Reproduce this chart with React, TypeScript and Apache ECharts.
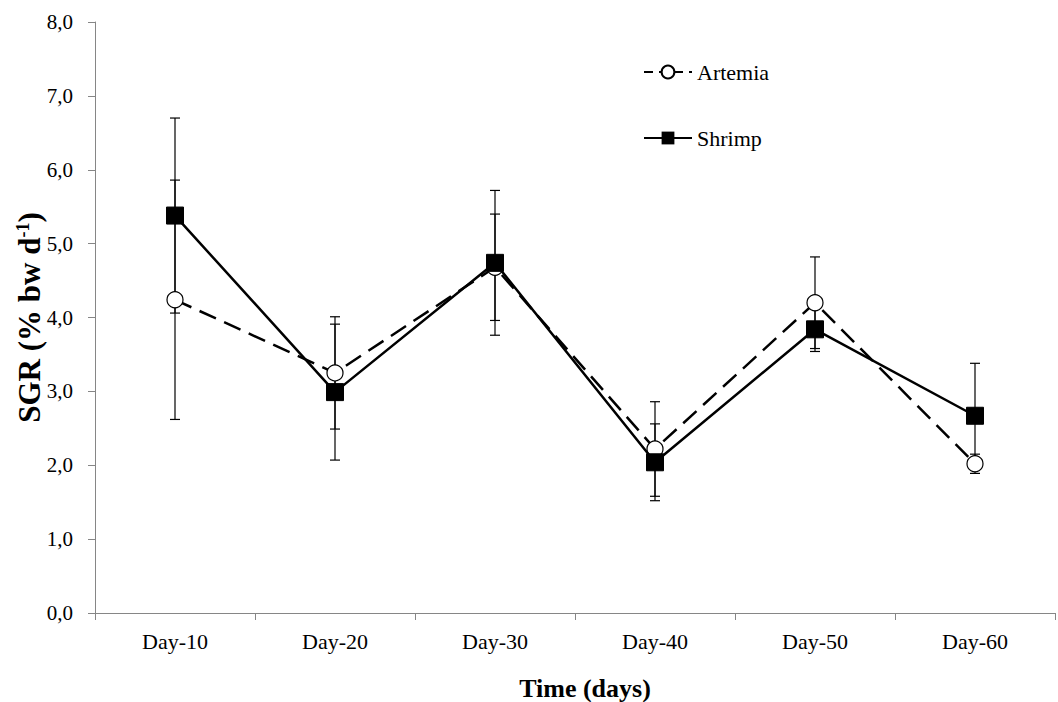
import React, { useEffect, useRef } from "react";
import * as echarts from "echarts";

const categories = ["Day-10", "Day-20", "Day-30", "Day-40", "Day-50", "Day-60"];
const artemia = [4.24, 3.25, 4.68, 2.22, 4.2, 2.02];
const artemiaErr = [1.62, 0.76, 0.72, 0.64, 0.62, 0.13];
const shrimp = [5.38, 2.99, 4.74, 2.04, 3.84, 2.67];
const shrimpErr = [1.32, 0.92, 0.98, 0.52, 0.3, 0.71];
const yTicks = [0, 1, 2, 3, 4, 5, 6, 7, 8];

const FONT = "'Liberation Serif', 'Times New Roman', serif";

function errData(vals: number[], errs: number[]) {
  return vals.map((v, i) => [i, v - errs[i], v + errs[i]]);
}

function errRender(params: any, api: any) {
  const x = api.value(0);
  const lo = api.coord([x, api.value(1)]);
  const hi = api.coord([x, api.value(2)]);
  const w = 5;
  const style = { stroke: "#000", lineWidth: 1.2 };
  return {
    type: "group",
    children: [
      { type: "line", shape: { x1: lo[0], y1: lo[1], x2: hi[0], y2: hi[1] }, style },
      { type: "line", shape: { x1: lo[0] - w, y1: lo[1], x2: lo[0] + w, y2: lo[1] }, style },
      { type: "line", shape: { x1: hi[0] - w, y1: hi[1], x2: hi[0] + w, y2: hi[1] }, style },
    ],
  };
}

export default function App() {
  const ref = useRef<HTMLDivElement>(null);
  useEffect(() => {
    const chart = echarts.init(ref.current!, undefined, { renderer: "svg" });
    chart.setOption({
      animation: false,
      backgroundColor: "#fff",
      textStyle: { fontFamily: FONT },
      grid: { left: 95, right: 3, top: 22, bottom: 89, outerBoundsMode: "none", containLabel: false },
      legend: {
        data: [
          { name: "Artemia", lineStyle: { type: [9, 6] } },
          { name: "Shrimp" },
        ],
        orient: "vertical",
        left: 638,
        top: 56,
        itemGap: 44,
        itemWidth: 48,
        itemHeight: 16,
        textStyle: { fontFamily: FONT, fontSize: 22, color: "#000" },
      },
      xAxis: {
        type: "category",
        data: categories,
        boundaryGap: true,
        name: "Time (days)",
        nameLocation: "middle",
        nameGap: 62,
        nameMoveOverlap: false,
        nameTextStyle: { fontFamily: FONT, fontSize: 26, fontWeight: "bold", color: "#000", padding: [0, 0, 0, 20] },
        axisLine: { lineStyle: { color: "#868686", width: 1 } },
        axisTick: { show: true, length: 7, lineStyle: { color: "#868686" } },
        axisLabel: { fontFamily: FONT, fontSize: 22, color: "#000", margin: 17 },
        splitLine: { show: false },
      },
      yAxis: {
        type: "value",
        min: yTicks[0],
        max: yTicks[yTicks.length - 1],
        interval: 1,
        name: "{n|SGR (% bw d}{s|-1}{n|)}",
        nameLocation: "middle",
        nameRotate: 90,
        nameGap: 50,
        nameMoveOverlap: false,
        nameTextStyle: {
          rich: {
            n: { fontFamily: FONT, fontSize: 31, fontWeight: "bold", color: "#000" },
            s: { fontFamily: FONT, fontSize: 18, fontWeight: "bold", color: "#000", verticalAlign: "top", padding: [0, 0, 12, 0] },
          },
        },
        axisLine: { show: true, lineStyle: { color: "#868686", width: 1 } },
        axisTick: { show: true, length: 7, lineStyle: { color: "#868686" } },
        axisLabel: {
          fontFamily: FONT,
          fontSize: 21,
          color: "#000",
          margin: 22,
          formatter: (v: number) => v.toFixed(1).replace(".", ","),
        },
        splitLine: { show: false },
      },
      series: [
        {
          type: "custom",
          name: "artErr",
          renderItem: errRender,
          data: errData(artemia, artemiaErr),
          z: 1,
          silent: true,
        },
        {
          type: "custom",
          name: "shrErr",
          renderItem: errRender,
          data: errData(shrimp, shrimpErr),
          z: 1,
          silent: true,
        },
        {
          type: "line",
          name: "Artemia",
          data: artemia,
          symbol: "circle",
          symbolSize: 16,
          lineStyle: { color: "#000", width: 2.5, type: [18, 9] },
          itemStyle: { color: "#fff", borderColor: "#000", borderWidth: 1.2 },
          z: 3,
        },
        {
          type: "line",
          name: "Shrimp",
          data: shrimp,
          symbol: "rect",
          symbolSize: 17,
          lineStyle: { color: "#000", width: 2.5 },
          itemStyle: { color: "#000", borderColor: "#000" },
          z: 4,
        },
      ],
    });
    return () => chart.dispose();
  }, []);
  return <div ref={ref} style={{ width: 1058, height: 702, position: "absolute", left: 0, top: 0 }} />;
}
